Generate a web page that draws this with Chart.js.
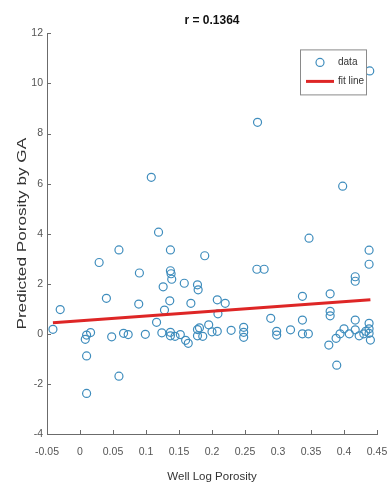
<!DOCTYPE html>
<html>
<head>
<meta charset="utf-8">
<script src="https://cdn.jsdelivr.net/npm/chart.js@4.4.1/dist/chart.umd.min.js"></script>
<style>
  html, body { margin: 0; padding: 0; background: #ffffff; }
  #wrap { width: 388px; height: 487px; }
</style>
</head>
<body>
<div id="wrap"><canvas id="c" width="388" height="487"></canvas></div>
<script>
// Well log porosity vs. porosity predicted by the GA model
const wellLogPorosity = [
  -0.041, -0.030, 0.008, 0.010, 0.016, 0.010, 0.010, 0.029, 0.040, 0.048,
  0.059, 0.059, 0.066, 0.073, 0.089, 0.090, 0.099, 0.108,
  0.119, 0.116, 0.124, 0.126, 0.128, 0.136, 0.137, 0.137, 0.138, 0.139,
  0.137, 0.137, 0.144, 0.152, 0.158, 0.160, 0.164, 0.168, 0.178, 0.179,
  0.178, 0.181, 0.178, 0.186, 0.189, 0.195, 0.200, 0.208, 0.208, 0.209,
  0.220, 0.229, 0.248, 0.248, 0.248, 0.268, 0.269, 0.279,
  0.289, 0.298, 0.298, 0.319, 0.337, 0.346, 0.337, 0.337, 0.347, 0.379,
  0.379, 0.379, 0.377, 0.388, 0.394, 0.400, 0.408, 0.389, 0.398, 0.417,
  0.417, 0.417, 0.417, 0.423, 0.430, 0.433, 0.438, 0.438, 0.438, 0.438,
  0.438, 0.440, 0.439
];
const predictedPorosity = [
  0.18, 0.97, -0.22, -0.05, 0.05, -0.88, -2.38, 2.85, 1.42, -0.12,
  3.35, -1.69, 0.02, -0.03, 1.19, 2.43, -0.02, 6.25,
  4.06, 0.46, 0.04, 1.88, 0.95, 1.32, 3.35, 2.52, 2.40, 2.18,
  0.06, -0.08, -0.10, -0.03, 2.02, -0.26, -0.38, 1.22, 1.96, 1.76,
  0.17, 0.24, -0.08, -0.10, 3.12, 0.36, 0.08, 0.10, 1.36, 0.80,
  1.22, 0.14, 0.26, 0.06, -0.14, 2.58, 8.45, 2.58,
  0.62, 0.10, -0.05, 0.16, 0.00, 0.00, 1.50, 0.55, 3.82, 1.60,
  0.90, 0.72, -0.45, -0.18, 0.00, 0.20, 0.00, -1.25, 5.90, 2.28,
  2.10, 0.55, 0.16, -0.08, 0.00, 0.10, 3.34, 2.78, 0.42, 0.20,
  0.02, -0.25, 10.50
];

// Least-squares fit line end points
const fitX = [-0.041, 0.440];
const fitY = [0.44, 1.36];

const xTickLabels = ['-0.05', '0', '0.05', '0.1', '0.15', '0.2', '0.25', '0.3', '0.35', '0.4', '0.45'];
const yTickLabels = ['-4', '-2', '0', '2', '4', '6', '8', '10', '12'];

const titleText = 'r = 0.1364';
const xTitle = 'Well Log Porosity';
const yTitle = 'Predicted Porosity by GA';
const legendLabels = ['data', 'fit line'];

const FONT = "'Liberation Sans Narrow', 'Liberation Sans', Arial, sans-serif";
const MARKER = '#3f8dbd';
const FITCOLOR = 'rgb(222,38,38)';
const AXIS = '#6b6b6b';

const scatterPts = wellLogPorosity.map((x, i) => ({ x: x, y: predictedPorosity[i] }));
const fitPts = fitX.map((x, i) => ({ x: x, y: fitY[i] }));

// Short tick marks drawn inward from the left and bottom axis lines
const inwardTicks = {
  id: 'inwardTicks',
  afterDraw(chart) {
    const ctx = chart.ctx;
    const xs = chart.scales.x, ys = chart.scales.y;
    const a = chart.chartArea;
    ctx.save();
    ctx.strokeStyle = AXIS;
    ctx.lineWidth = 1;
    ctx.beginPath();
    xs.ticks.forEach(t => {
      const px = Math.round(xs.getPixelForValue(t.value)) + 0.5;
      ctx.moveTo(px, a.bottom);
      ctx.lineTo(px, a.bottom - 4);
    });
    ys.ticks.forEach(t => {
      const py = Math.round(ys.getPixelForValue(t.value)) + 0.5;
      ctx.moveTo(a.left, py);
      ctx.lineTo(a.left + 4, py);
    });
    ctx.stroke();
    ctx.restore();
  }
};

// Vertical axis title, drawn tall and narrow beside the tick labels
const yAxisTitle = {
  id: 'yAxisTitle',
  afterDraw(chart) {
    const ctx = chart.ctx;
    const a = chart.chartArea;
    ctx.save();
    ctx.translate(22, (a.top + a.bottom) / 2);
    ctx.rotate(-Math.PI / 2);
    ctx.scale(1.32, 1);
    ctx.fillStyle = '#333333';
    ctx.font = '13px ' + FONT;
    ctx.textAlign = 'center';
    ctx.textBaseline = 'middle';
    ctx.fillText(yTitle, 0, 0);
    ctx.restore();
  }
};

// Boxed legend in the upper-right corner of the axes
const boxLegend = {
  id: 'boxLegend',
  afterDraw(chart) {
    const ctx = chart.ctx;
    const a = chart.chartArea;
    const w = 66, h = 45;
    const left = a.right - 11 - w, top = a.top + 16;
    ctx.save();
    ctx.fillStyle = '#ffffff';
    ctx.fillRect(left, top, w, h);
    ctx.strokeStyle = '#8a8a8a';
    ctx.lineWidth = 1;
    ctx.strokeRect(left + 0.5, top + 0.5, w, h);

    const ds0 = chart.data.datasets[0];
    const ds1 = chart.data.datasets[1];
    ctx.strokeStyle = ds0.borderColor;
    ctx.lineWidth = ds0.borderWidth;
    ctx.beginPath();
    ctx.arc(left + 20, top + 13, ds0.pointRadius, 0, Math.PI * 2);
    ctx.stroke();

    ctx.strokeStyle = ds1.borderColor;
    ctx.lineWidth = ds1.borderWidth;
    ctx.beginPath();
    ctx.moveTo(left + 6, top + 32);
    ctx.lineTo(left + 34, top + 32);
    ctx.stroke();

    ctx.fillStyle = '#333333';
    ctx.font = '10px ' + FONT;
    ctx.textBaseline = 'middle';
    ctx.textAlign = 'left';
    ctx.fillText(legendLabels[0], left + 38, top + 13);
    ctx.fillText(legendLabels[1], left + 38, top + 32);
    ctx.restore();
  }
};

new Chart(document.getElementById('c'), {
  type: 'scatter',
  data: {
    datasets: [
      {
        label: legendLabels[0],
        data: scatterPts,
        pointStyle: 'circle',
        pointRadius: 4,
        pointHoverRadius: 4,
        borderColor: MARKER,
        backgroundColor: 'rgba(0,0,0,0)',
        borderWidth: 1.2,
        order: 1
      },
      {
        label: legendLabels[1],
        data: fitPts,
        showLine: true,
        pointRadius: 0,
        borderColor: FITCOLOR,
        backgroundColor: FITCOLOR,
        borderWidth: 3,
        order: 0
      }
    ]
  },
  options: {
    responsive: false,
    animation: false,
    events: [],
    layout: { padding: { left: 0, right: 0, top: 0, bottom: 0 } },
    plugins: {
      legend: { display: false },
      tooltip: { enabled: false },
      title: {
        display: true,
        fullSize: false,
        text: titleText,
        color: '#111111',
        font: { family: FONT, size: 12, weight: 'bold', lineHeight: 1.2 },
        padding: { top: 13, bottom: 6 }
      }
    },
    scales: {
      x: {
        type: 'linear',
        min: -0.05,
        max: 0.45,
        afterFit(scale) {
          scale.height = 53;
          scale.paddingRight = 11;
        },
        afterBuildTicks(scale) {
          scale.ticks = xTickLabels.map(s => ({ value: parseFloat(s) }));
        },
        grid: { display: false, drawTicks: false },
        border: { display: true, color: AXIS, width: 1 },
        ticks: {
          padding: 12,
          color: '#555555',
          font: { family: FONT, size: 10.5 },
          maxRotation: 0,
          autoSkip: false,
          callback: (v, i) => xTickLabels[i]
        },
        title: {
          display: true,
          text: xTitle,
          color: '#333333',
          font: { family: FONT, size: 11.5 },
          padding: { top: 0, bottom: 3 }
        }
      },
      y: {
        type: 'linear',
        min: -4,
        max: 12,
        afterFit(scale) { scale.width = 47; },
        afterBuildTicks(scale) {
          scale.ticks = yTickLabels.map(s => ({ value: parseFloat(s) }));
        },
        grid: { display: false, drawTicks: false },
        border: { display: true, color: AXIS, width: 1 },
        ticks: {
          padding: 4,
          color: '#555555',
          font: { family: FONT, size: 10.5 },
          autoSkip: false,
          callback: (v, i) => yTickLabels[i]
        },
        title: { display: false, text: yTitle }
      }
    }
  },
  plugins: [inwardTicks, yAxisTitle, boxLegend]
});
</script>
</body>
</html>
